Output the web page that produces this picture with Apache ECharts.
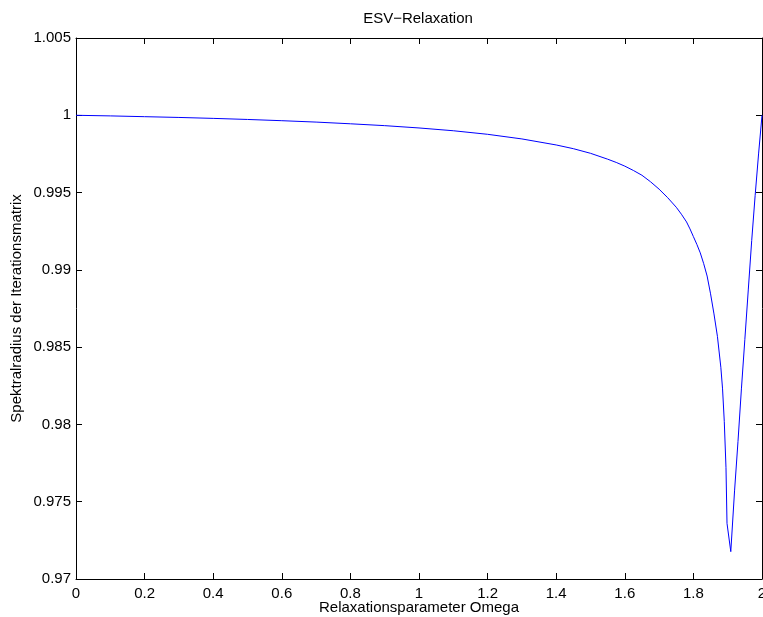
<!DOCTYPE html>
<html>
<head>
<meta charset="utf-8">
<script src="https://cdn.jsdelivr.net/npm/echarts@6/dist/echarts.min.js"></script>
<style>html,body{margin:0;padding:0;background:#fff}#c{width:763px;height:617px}</style>
</head>
<body>
<div id="c"></div>
<script>
const omega = [0, 0.1, 0.2, 0.3, 0.4, 0.5, 0.6, 0.7, 0.8, 0.9, 1.0, 1.1, 1.2, 1.3, 1.4, 1.45, 1.5, 1.55, 1.575, 1.6, 1.625, 1.65, 1.675, 1.7, 1.725, 1.75, 1.765, 1.78, 1.79, 1.8, 1.81, 1.82, 1.83, 1.84, 1.85, 1.86, 1.87, 1.88, 1.885, 1.89, 1.895, 1.898, 1.909, 1.92, 1.93, 1.94, 1.95, 1.96, 1.97, 1.98, 1.99, 2.0];
const rho = [1.00000, 0.99996, 0.99991, 0.99986, 0.99980, 0.99973, 0.99965, 0.99956, 0.99945, 0.99933, 0.99918, 0.99900, 0.99877, 0.99847, 0.99808, 0.99784, 0.99754, 0.99716, 0.99695, 0.99671, 0.99643, 0.99612, 0.99570, 0.99522, 0.99467, 0.99405, 0.99360, 0.99310, 0.99265, 0.99215, 0.99165, 0.99110, 0.99040, 0.98960, 0.98845, 0.98715, 0.98570, 0.98370, 0.98230, 0.98020, 0.97720, 0.97360, 0.97177, 0.97570, 0.97890, 0.98230, 0.98550, 0.98870, 0.99190, 0.99480, 0.99750, 1.00000];
const titleText = 'ESV\u2212Relaxation';
const xName = 'Relaxationsparameter Omega';
const yName = 'Spektralradius der Iterationsmatrix';

const FONT = "'Liberation Sans', Arial, Helvetica, sans-serif";
const fmt = v => String(parseFloat(v.toFixed(4)));
const data = omega.map((w, i) => [w, rho[i]]);

const chart = echarts.init(document.getElementById('c'), null, {renderer: 'canvas'});
const axLine = {show: true, onZero: false, lineStyle: {color: '#000', width: 1}};
const axTick = {show: true, inside: true, length: 6, lineStyle: {color: '#000', width: 1}};
chart.setOption({
  animation: false,
  backgroundColor: '#fff',
  grid: {left: 76, right: 1, top: 38, bottom: 38, containLabel: false, outerBoundsMode: 'none'},
  graphic: [{
    type: 'text', x: 418, y: 19,
    style: {text: titleText, font: '15px ' + FONT, fill: '#000', textAlign: 'center', textVerticalAlign: 'middle'}
  }],
  xAxis: [{
    type: 'value', position: 'bottom', min: 0, max: 2, interval: 0.2,
    axisLine: axLine, axisTick: axTick, splitLine: {show: false},
    axisLabel: {color: '#000', fontSize: 15, fontFamily: FONT, margin: 7, formatter: fmt},
    name: xName, nameLocation: 'middle', nameGap: 21, nameMoveOverlap: false,
    nameTextStyle: {color: '#000', fontSize: 15, fontFamily: FONT}
  }, {
    type: 'value', position: 'top', min: 0, max: 2, interval: 0.2,
    axisLine: axLine, axisTick: axTick, splitLine: {show: false}, axisLabel: {show: false}
  }],
  yAxis: [{
    type: 'value', position: 'left', min: 0.97, max: 1.005, interval: 0.005,
    axisLine: axLine, axisTick: axTick, splitLine: {show: false},
    axisLabel: {color: '#000', fontSize: 15, fontFamily: FONT, margin: 5, formatter: fmt},
    name: yName, nameLocation: 'middle', nameGap: 52, nameMoveOverlap: false,
    nameTextStyle: {color: '#000', fontSize: 15, fontFamily: FONT}
  }, {
    type: 'value', position: 'right', min: 0.97, max: 1.005, interval: 0.005,
    axisLine: axLine, axisTick: axTick, splitLine: {show: false}, axisLabel: {show: false}
  }],
  series: [{
    type: 'line', data: data, xAxisIndex: 0, yAxisIndex: 0,
    symbol: 'none', showSymbol: false, smooth: false, clip: true,
    lineStyle: {color: '#0000ff', width: 1}
  }]
});
</script>
</body>
</html>
